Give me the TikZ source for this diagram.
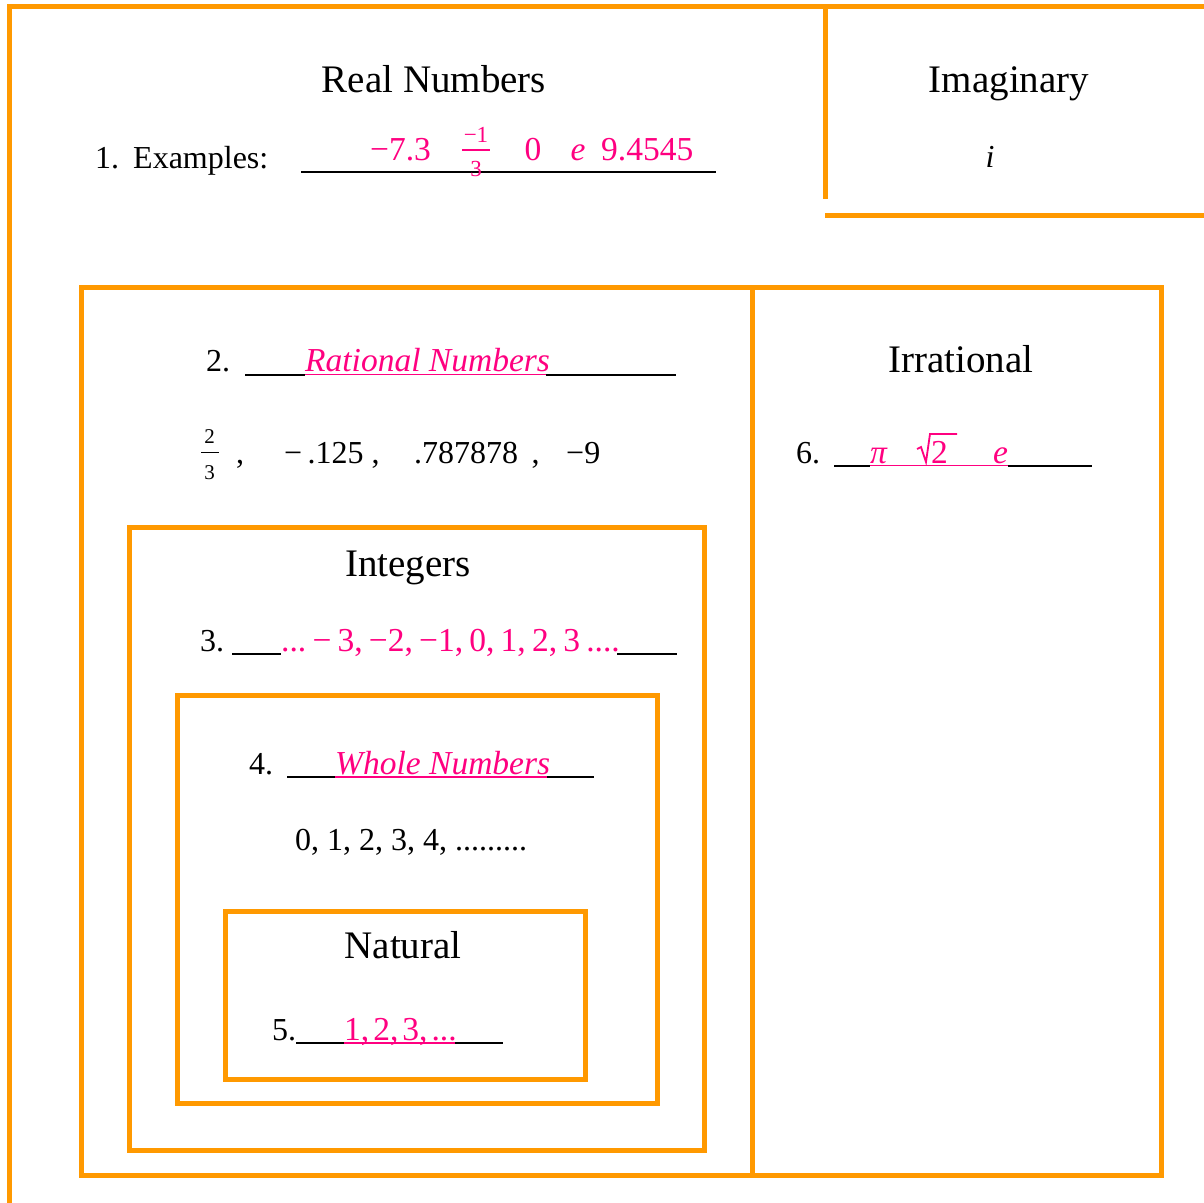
\documentclass[tikz,border=0pt]{standalone}
\usepackage{fontspec}
\setmainfont{Liberation Serif}
\definecolor{orng}{RGB}{255,153,0}
\definecolor{pnk}{RGB}{255,0,128}
\newcommand{\nsp}{\hspace{6.2pt}}
\begin{document}
\begin{tikzpicture}[x=1pt,y=-1pt,
 frame/.style={draw=orng,line width=5pt},
 ttl/.style={font=\fontsize{39}{42}\selectfont,anchor=base,inner sep=0},
 txt/.style={font=\fontsize{32}{36}\selectfont,anchor=base west,inner sep=0},
 ptx/.style={font=\fontsize{33.5}{36}\selectfont,anchor=base west,inner sep=0,text=pnk},
 itx/.style={font=\fontsize{32}{36}\selectfont\itshape,anchor=base west,inner sep=0},
 pitx/.style={font=\fontsize{33.5}{36}\selectfont\itshape,anchor=base west,inner sep=0,text=pnk},
 sml/.style={font=\fontsize{21}{22}\selectfont,anchor=base,inner sep=0},
 uline/.style={line width=2pt,black},
 pline/.style={line width=1.8pt,pnk}]
\useasboundingbox (0,0) rectangle (1203,1203);
\fill[white] (0,0) rectangle (1203,1203);
% frames
\draw[frame] (9.5,1215) -- (9.5,6.5) -- (1215,6.5);
\draw[frame] (825,6.5) -- (825,198.5);
\draw[frame] (825,215) -- (1215,215);
\draw[frame] (81.5,287.5) rectangle (1161,1175.5);
\draw[frame] (752.5,287.5) -- (752.5,1175.5);
\draw[frame] (129.5,527.5) rectangle (704.5,1150.5);
\draw[frame] (177.5,695.5) rectangle (657,1103);
\draw[frame] (225.5,911.5) rectangle (585,1079);
% titles
\node[ttl] (real) at (434,92) {Real Numbers};
\node[ttl] (imag) at (1009,92) {Imaginary};
\node[itx,anchor=base] (ival) at (990,167) {i};
% 1. examples
\node[txt] (n1) at (95,168) {1.};
\node[txt] (ex) at (133,168) {Examples:};
\draw[uline] (301,171.5) -- (716,171.5);
\node[ptx] (e1) at (370,160) {−7.3};
\node[sml,text=pnk,font=\fontsize{23}{24}\selectfont] (fn) at (476,142) {−1};
\draw[pline] (462,150) -- (490,150);
\node[sml,text=pnk,font=\fontsize{23}{24}\selectfont] (fd) at (476,176) {3};
\node[ptx,anchor=base] (e0) at (533,160) {0};
\node[pitx,anchor=base] (ee) at (578,160) {e};
\node[ptx] (e9) at (601,160) {9.4545};
% 2. rational
\node[txt] (n2) at (206,371) {2.};
\draw[uline] (245,374.5) -- (305,374.5);
\draw[uline] (546,374.5) -- (676,374.5);
\node[pitx] (rat) at (305,371) {Rational Numbers};
\draw[pline] (305,374.5) -- (546,374.5);
\node[sml] (f2n) at (209.5,443) {2};
\draw[line width=1.5pt] (201,452.5) -- (219,452.5);
\node[sml] (f2d) at (209.5,479) {3};
\node[txt,anchor=base] (c1) at (240,463) {,};
\node[txt] (r1) at (284,463) {−\,.125 ,};
\node[txt] (r2) at (414,463) {.787878\, ,};
\node[txt] (r3) at (566,463) {−9};
% integers
\node[ttl] (int) at (408,576) {Integers};
\node[txt] (n3) at (200,651) {3.};
\draw[uline] (232,653.5) -- (281,653.5);
\draw[uline] (617,653.5) -- (677,653.5);
\node[ptx] (intv) at (281,651) {...\nsp−\nsp3,\nsp−2,\nsp−1,\nsp0,\nsp1,\nsp2,\nsp3\nsp....};
% whole
\node[txt] (n4) at (249,774) {4.};
\draw[uline] (287,777) -- (335,777);
\draw[uline] (547,777) -- (594,777);
\node[pitx] (whole) at (335,774) {Whole Numbers};
\draw[pline] (335,777) -- (547,777);
\node[txt] (wv) at (295,850) {0, 1, 2, 3, 4, .........};
% natural
\node[ttl] (nat) at (403,958) {Natural};
\node[txt] (n5) at (272,1040) {5.};
\draw[uline] (296,1043) -- (344,1043);
\draw[uline] (455,1043) -- (503,1043);
\node[ptx] (natv) at (344,1040) {1,\hspace{4pt}2,\hspace{4pt}3,\hspace{4pt}...};
\draw[pline] (344,1043) -- (455,1043);
% irrational
\node[ttl] (irr) at (961,372) {Irrational};
\node[txt] (n6) at (796,463) {6.};
\draw[uline] (834,465.5) -- (870,465.5);
\draw[uline] (1008,465.5) -- (1092,465.5);
\node[pitx] (pi) at (870,463) {π};
\draw[pnk,line width=1.8pt,line join=miter] (917,449) -- (921,447) -- (926,462) -- (930,434) -- (957,434);
\node[ptx] (two) at (931,463) {2};
\node[pitx] (ie) at (993,463) {e};
\draw[pline] (870,465.5) -- (1008,465.5);
\end{tikzpicture}
\end{document}
